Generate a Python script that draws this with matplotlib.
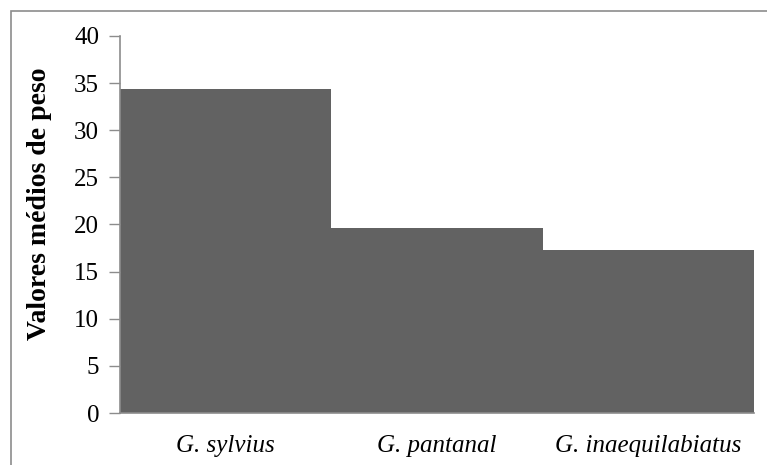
import matplotlib
matplotlib.use("Agg")
import matplotlib.pyplot as plt
from matplotlib.patches import Rectangle

species = ["G. sylvius", "G. pantanal", "G. inaequilabiatus"]
mean_weight = [34.4, 19.6, 17.3]
y_ticks = [0, 5, 10, 15, 20, 25, 30, 35, 40]

W, H = 767, 465
fig = plt.figure(figsize=(W / 100, H / 100), dpi=100)
fig.patch.set_facecolor("white")

# outer chart frame
fig.patches.append(Rectangle((11 / W, -0.1), 1.2, 1 - 11 / H + 0.1,
                             transform=fig.transFigure, fill=False,
                             edgecolor="#8c8c8c", linewidth=1.2))

ax = fig.add_axes([120 / W, 1 - 413 / H, (754 - 120) / W, (413 - 36) / H])
x = range(len(species))
ax.bar(x, mean_weight, width=1.0, color="#626262", edgecolor="none")
ax.set_xlim(-0.5, len(species) - 0.5)
ax.set_ylim(0, 40)
ax.set_yticks(y_ticks)

serif = ["Liberation Serif", "DejaVu Serif"]
ax.set_yticklabels([str(v) for v in y_ticks], fontfamily=serif, fontsize=18)
ax.set_xticks(list(x))
ax.set_xticklabels(species, fontfamily=serif, fontsize=18, style="italic")
ax.tick_params(axis="x", length=0, pad=16)
ax.tick_params(axis="y", length=8, width=1, color="#8c8c8c", pad=7)

for side in ("top", "right"):
    ax.spines[side].set_visible(False)
for side in ("left", "bottom"):
    ax.spines[side].set_color("#8c8c8c")
    ax.spines[side].set_linewidth(1.2)

ax.set_ylabel("Valores médios de peso", fontfamily=serif, fontsize=20,
              fontweight="bold")
ax.yaxis.set_label_coords(-0.108, 0.555)

fig.savefig("out.png", dpi=100)
